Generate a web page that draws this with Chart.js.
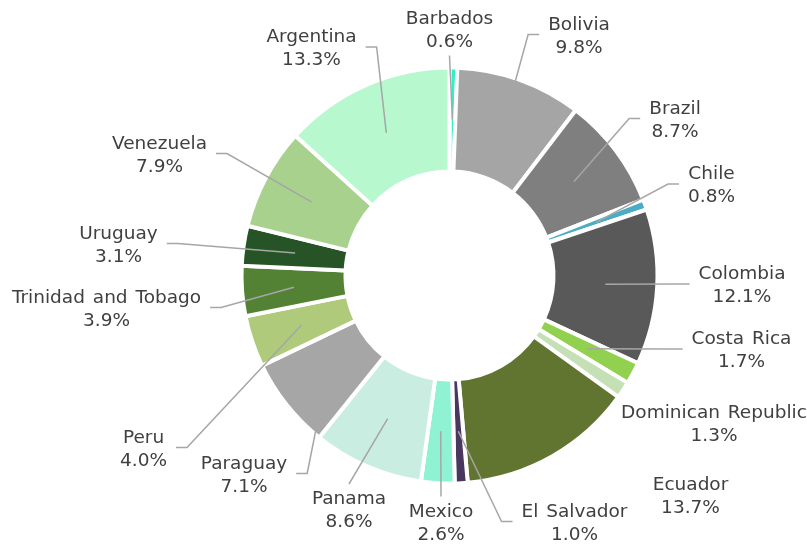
<!DOCTYPE html>
<html>
<head>
<meta charset="utf-8">
<script src="https://cdn.jsdelivr.net/npm/chart.js@4.4.1/dist/chart.umd.min.js"></script>
<style>
  html, body { margin: 0; padding: 0; background: #fff; }
  #wrap { width: 807px; height: 544px; position: relative; }
</style>
</head>
<body>
<div id="wrap"><canvas id="chart"></canvas></div>
<script>
// share of total, in percent, clockwise from 12 o'clock
const countries = [
  'Barbados', 'Bolivia', 'Brazil', 'Chile', 'Colombia', 'Costa Rica',
  'Dominican Republic', 'Ecuador', 'El Salvador', 'Mexico', 'Panama',
  'Paraguay', 'Peru', 'Trinidad and Tobago', 'Uruguay', 'Venezuela', 'Argentina'
];
const shares = [0.6, 9.8, 8.7, 0.8, 12.1, 1.7, 1.3, 13.7, 1.0, 2.6, 8.6, 7.1, 4.0, 3.9, 3.1, 7.9, 13.3];
const sliceColors = [
  '#33efc6', '#a5a5a5', '#7f7f7f', '#4bacc6', '#595959', '#92d050',
  '#c5e0b4', '#617530', '#4a3760', '#8ef2d3', '#c9ede0',
  '#a6a6a6', '#afca7a', '#548235', '#275426', '#a9d18e', '#b7f8cf'
];

// labels sit outside the ring; offsets are from the doughnut centre
const outsideLabels = {
  id: 'outsideLabels',
  afterDatasetsDraw(chart, _args, opts) {
    const ctx = chart.ctx;
    const arcs = chart.getDatasetMeta(0).data;
    ctx.save();
    ctx.font = opts.font;
    if ('wordSpacing' in ctx) ctx.wordSpacing = '2px';
    arcs.forEach((arc, i) => {
      const p = arc.getProps(['x', 'y', 'startAngle', 'endAngle', 'innerRadius', 'outerRadius'], true);
      const mid = (p.startAngle + p.endAngle) / 2;
      const r = (p.innerRadius + p.outerRadius) / 2;
      const ax = p.x + Math.cos(mid) * r;
      const ay = p.y + Math.sin(mid) * r;
      const lx = p.x + opts.offsets[i][0];
      const ly = p.y + opts.offsets[i][1];
      const lines = [countries[i], shares[i].toFixed(1) + '%'];
      const half = Math.max(...lines.map((t) => ctx.measureText(t).width)) / 2;

      if (!opts.noLeader.includes(i)) {
        ctx.beginPath();
        ctx.moveTo(ax, ay);
        if (ax > lx + half + 20) {
          const ex = lx + half + 9;
          ctx.lineTo(ex + 11, ly - 2);
          ctx.lineTo(ex, ly - 2);
        } else if (ax < lx - half - 20) {
          const ex = lx - half - 9;
          ctx.lineTo(ex - 11, ly - 2);
          ctx.lineTo(ex, ly - 2);
        } else if (ay < ly) {
          ctx.lineTo(lx, ly - 27);
        } else {
          ctx.lineTo(lx, ly + 25);
        }
        ctx.strokeStyle = opts.lineColor;
        ctx.lineWidth = 1.5;
        ctx.stroke();
      }

      ctx.fillStyle = opts.color;
      ctx.textAlign = 'center';
      ctx.textBaseline = 'middle';
      lines.forEach((t, k) => ctx.fillText(t, lx, ly + (k - 0.5) * opts.lineHeight));
    });
    ctx.restore();
  }
};

new Chart(document.getElementById('chart'), {
  type: 'doughnut',
  data: {
    labels: countries,
    datasets: [{
      data: shares,
      backgroundColor: sliceColors,
      borderColor: '#ffffff',
      borderWidth: 4,
      hoverOffset: 0
    }]
  },
  options: {
    responsive: true,
    maintainAspectRatio: false,
    animation: false,
    cutout: '50%',
    layout: { padding: { left: 239.5, right: 147.5, top: 65.5, bottom: 58.5 } },
    plugins: {
      legend: { display: false },
      tooltip: { enabled: false },
      outsideLabels: {
        font: '18.5px "DejaVu Sans", Verdana, sans-serif',
        color: '#404040',
        lineColor: '#a6a6a6',
        lineHeight: 23,
        noLeader: [6, 7],
        offsets: [
          [0, -245], [129.5, -239], [225.5, -155], [262, -89.5], [292.5, 10.5],
          [292, 75.5], [264.5, 149.5], [241, 221.5], [125, 248], [-8.5, 248],
          [-100.5, 235.5], [-205.5, 200], [-306, 174], [-343, 34], [-331, -30],
          [-290, -120], [-138, -226.5]
        ]
      }
    }
  },
  plugins: [outsideLabels]
});
</script>
</body>
</html>
